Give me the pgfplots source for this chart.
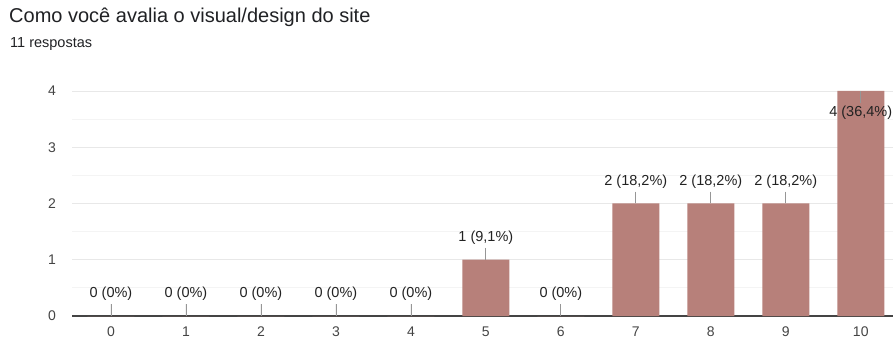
\documentclass[border=0pt]{standalone}
\usepackage{pgfplots}
\pgfplotsset{compat=1.18}
\usepackage{pgfplotstable}
\usepackage{fontspec}
\setmainfont{Liberation Sans}

\definecolor{barcol}{RGB}{183,128,122}
\definecolor{titlecol}{RGB}{32,33,36}
\definecolor{labelcol}{RGB}{34,34,34}
\definecolor{tickcol}{RGB}{68,68,68}
\definecolor{gridmaj}{RGB}{232,232,232}
\definecolor{gridmin}{RGB}{244,244,244}
\definecolor{leadcol}{RGB}{150,150,150}

% score, answers, leader length (negative = drawn into the bar), label
\pgfplotstableread{
x y e label
0 0 0.21 {0 (0\%)}
1 0 0.21 {0 (0\%)}
2 0 0.21 {0 (0\%)}
3 0 0.21 {0 (0\%)}
4 0 0.21 {0 (0\%)}
5 1 0.21 {1 (9,1\%)}
6 0 0.21 {0 (0\%)}
7 2 0.21 {2 (18,2\%)}
8 2 0.21 {2 (18,2\%)}
9 2 0.21 {2 (18,2\%)}
10 4 -0.21 {4 (36,4\%)}
}\ratings

\begin{document}
\begin{tikzpicture}[x=1pt,y=1pt]
\useasboundingbox (0,0) rectangle (893,340);
\node[anchor=base west, font=\fontsize{20}{22}\selectfont, text=titlecol, inner sep=0pt] at (9,317) {Como você avalia o visual/design do site};
\node[anchor=base west, font=\fontsize{14.5}{16}\selectfont, text=titlecol, inner sep=0pt] at (10,292) {11 respostas};
\begin{axis}[
  at={(72pt,24pt)}, anchor=south west,
  scale only axis, width=821pt, height=225pt,
  xmin=-0.52, xmax=10.43, ymin=0, ymax=4,
  enlargelimits=false, clip=false,
  axis x line=bottom, axis y line=left,
  x axis line style={-, color=tickcol, line width=1.3pt},
  y axis line style={draw=none},
  xtick={0,...,10}, ytick={0,1,2,3,4},
  minor y tick num=1,
  ymajorgrids, yminorgrids,
  major grid style={gridmaj, line width=0.8pt},
  minor grid style={gridmin, line width=0.8pt},
  major tick length=0pt, minor tick length=0pt,
  tick label style={font=\fontsize{14}{15}\selectfont, text=tickcol},
  /pgf/number format/assume math mode=true,
  yticklabel style={anchor=center, xshift=-20pt},
  xticklabel style={anchor=center, yshift=-16pt},
  ybar, bar width=47pt,
  nodes near coords,
  point meta=explicit symbolic,
  visualization depends on={ifthenelse(\thisrow{y}>3.5,-22,22)\as\dy},
  nodes near coords style={anchor=center, yshift=\dy pt, font=\fontsize{14.5}{16}\selectfont, text=labelcol, inner sep=0pt},
]
\addplot[fill=barcol, draw=none,
  error bars/.cd, y dir=plus, y explicit, error mark=none,
  error bar style={leadcol, line width=0.8pt}]
  table[x=x, y=y, y error=e, meta=label] {\ratings};
\end{axis}
\end{tikzpicture}
\end{document}
